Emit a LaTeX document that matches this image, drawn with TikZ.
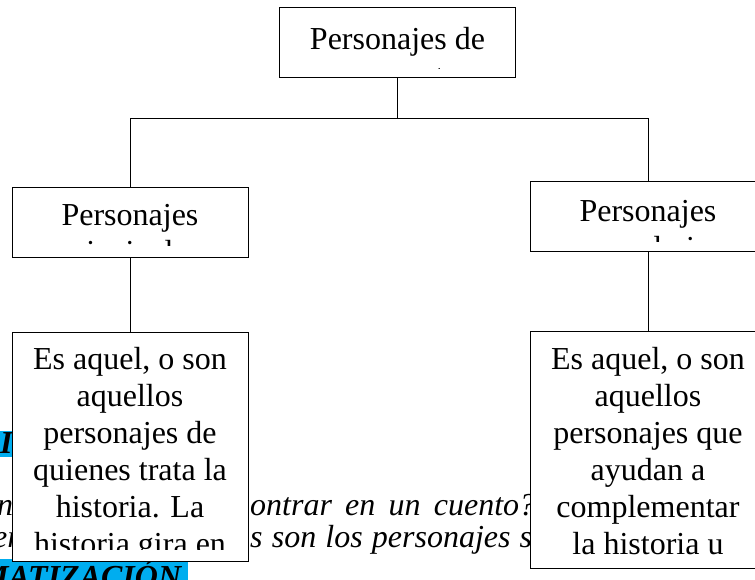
\documentclass[tikz,border=0pt]{standalone}
\usepackage{fontspec}
\setmainfont{Liberation Serif}
\usepackage{xcolor}
\usepackage{tikz}

\begin{document}
\begin{tikzpicture}[x=1pt, y=-1pt,
    caja/.style={draw, fill=white, line width=0.9pt, inner sep=0pt, minimum width=236pt},
    texto/.style={anchor=north, align=center, inner sep=0pt, font=\fontsize{32}{37}\selectfont},
    fondo/.style={anchor=base west, inner sep=0pt, font=\fontsize{32}{32}\selectfont\itshape},
    resalte/.style={anchor=base west, inner sep=0pt, font=\fontsize{32}{32}\selectfont\bfseries\itshape}]
    \useasboundingbox (0,0) rectangle (755,579);
    \fill [cyan] (0,431) rectangle (20,457);
    \fill [cyan] (0,559) rectangle (188,585);
    \node [resalte] (titulo) at (0,453) {I};
    \node [resalte] (matiz) at (-20,587) {MATIZACIÓN};
    \node [fondo] (linea1a) at (-3,515) {n};
    \node [fondo] (linea1b) at (250,515) {\hbox to 285pt{ontrar\hfill en\hfill un\hfill cuento?}};
    \node [fondo] (linea2a) at (-7,547) {er};
    \node [fondo] (linea2b) at (250,547) {\hbox to 282pt{s\hfill son\hfill los\hfill personajes\hfill s}};

    \node [caja, minimum height=70pt] (central) at (397.5,42) {};
    \node [caja, minimum height=70pt] (principal) at (130,222) {};
    \node [caja, minimum height=70pt] (secundario) at (648,216) {};
    \node [caja, minimum height=229pt] (defprin) at (130,446.5) {};
    \node [caja, minimum height=237pt] (defsec) at (648,449.5) {};

    \coordinate (barra) at (0,118);
    \draw [line width=0.9pt] (central.south) -- (central.south |- barra);
    \draw [line width=0.9pt] (principal.north) |- (barra -| secundario.north) -- (secundario.north);
    \draw [line width=0.9pt] (principal.south) -- (defprin.north);
    \draw [line width=0.9pt] (secundario.south) -- (defsec.north);

    \begin{scope}
      \clip (central.north west) rectangle ([yshift=9pt]central.south east);
      \node [texto] (tcentral) at ([yshift=-21pt]central.north) {Personajes de\\un cuento};
    \end{scope}
    \begin{scope}
      \clip (principal.north west) rectangle ([yshift=12pt]principal.south east);
      \node [texto] (tprincipal) at ([yshift=-18pt]principal.north) {Personajes\\principales};
    \end{scope}
    \begin{scope}
      \clip (secundario.north west) rectangle ([yshift=10pt]secundario.south east);
      \node [texto] (tsecundario) at ([yshift=-20pt]secundario.north) {Personajes\\secundarios};
    \end{scope}
    \begin{scope}
      \clip (defprin.north west) rectangle ([yshift=12pt]defprin.south east);
      \node [texto] (tdefprin) at ([yshift=-16pt]defprin.north) {Es aquel, o son\\aquellos\\personajes de\\quienes trata la\\historia. La\\historia gira en};
    \end{scope}
    \begin{scope}
      \clip (defsec.north west) rectangle ([yshift=12pt]defsec.south east);
      \node [texto] (tdefsec) at ([yshift=-17pt]defsec.north) {Es aquel, o son\\aquellos\\personajes que\\ayudan a\\complementar\\la historia u};
    \end{scope}
\end{tikzpicture}
\end{document}
